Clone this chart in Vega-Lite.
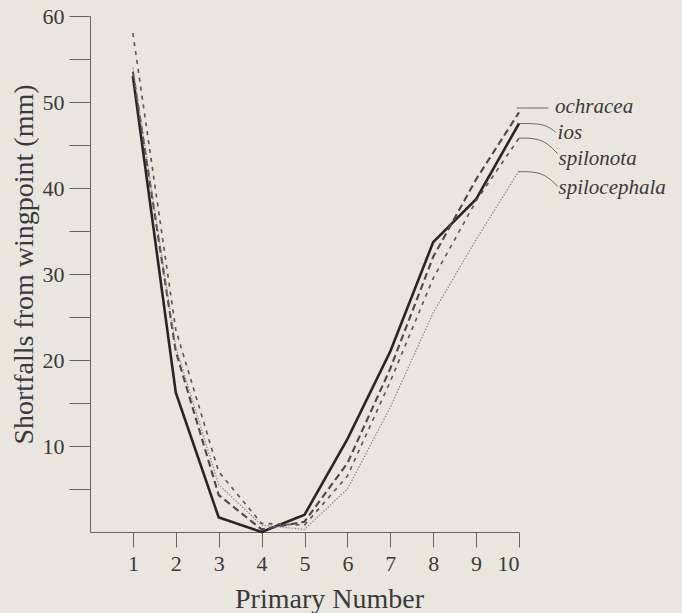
{
  "$schema": "https://vega.github.io/schema/vega-lite/v6.json",
  "width": 429,
  "height": 516,
  "autosize": "none",
  "padding": {"left": 90, "top": 16, "right": 163, "bottom": 81},
  "background": "#e9e6df",
  "config": {
    "view": {"stroke": null},
    "axis": {"domainColor": "#666", "tickColor": "#666", "labelColor": "#3a3a3a", "titleColor": "#3a3a3a", "labelFont": "Times New Roman, Liberation Serif, serif", "titleFont": "Times New Roman, Liberation Serif, serif", "titleFontWeight": "normal", "grid": false}
  },
  "datasets": {
    "curves": [
      {"series": "ios", "primary": 1, "shortfall": 53},
      {"series": "ios", "primary": 2, "shortfall": 16.2},
      {"series": "ios", "primary": 3, "shortfall": 1.7},
      {"series": "ios", "primary": 4, "shortfall": 0},
      {"series": "ios", "primary": 5, "shortfall": 2.0},
      {"series": "ios", "primary": 6, "shortfall": 10.8},
      {"series": "ios", "primary": 7, "shortfall": 21},
      {"series": "ios", "primary": 8, "shortfall": 33.7},
      {"series": "ios", "primary": 9, "shortfall": 38.7},
      {"series": "ios", "primary": 10, "shortfall": 47.5},
      {"series": "ochracea", "primary": 1, "shortfall": 53.5},
      {"series": "ochracea", "primary": 2, "shortfall": 21},
      {"series": "ochracea", "primary": 3, "shortfall": 4.3},
      {"series": "ochracea", "primary": 4, "shortfall": 0.3},
      {"series": "ochracea", "primary": 5, "shortfall": 1.2},
      {"series": "ochracea", "primary": 6, "shortfall": 8},
      {"series": "ochracea", "primary": 7, "shortfall": 19},
      {"series": "ochracea", "primary": 8, "shortfall": 32},
      {"series": "ochracea", "primary": 9, "shortfall": 41},
      {"series": "ochracea", "primary": 10, "shortfall": 48.8},
      {"series": "spilonota", "primary": 1, "shortfall": 58},
      {"series": "spilonota", "primary": 2, "shortfall": 23.5},
      {"series": "spilonota", "primary": 3, "shortfall": 7},
      {"series": "spilonota", "primary": 4, "shortfall": 1.0},
      {"series": "spilonota", "primary": 5, "shortfall": 0.8},
      {"series": "spilonota", "primary": 6, "shortfall": 6.5},
      {"series": "spilonota", "primary": 7, "shortfall": 17.5},
      {"series": "spilonota", "primary": 8, "shortfall": 29.5},
      {"series": "spilonota", "primary": 9, "shortfall": 38.5},
      {"series": "spilonota", "primary": 10, "shortfall": 45.8},
      {"series": "spilocephala", "primary": 1, "shortfall": 54},
      {"series": "spilocephala", "primary": 2, "shortfall": 21.5},
      {"series": "spilocephala", "primary": 3, "shortfall": 5.5},
      {"series": "spilocephala", "primary": 4, "shortfall": 0.8},
      {"series": "spilocephala", "primary": 5, "shortfall": 0.3},
      {"series": "spilocephala", "primary": 6, "shortfall": 5},
      {"series": "spilocephala", "primary": 7, "shortfall": 14.5},
      {"series": "spilocephala", "primary": 8, "shortfall": 25.5},
      {"series": "spilocephala", "primary": 9, "shortfall": 34},
      {"series": "spilocephala", "primary": 10, "shortfall": 42}
    ],
    "leaders": [
      {"series": "ochracea", "k": 0, "x": 9.95, "y": 49.3},
      {"series": "ochracea", "k": 1, "x": 10.3, "y": 49.3},
      {"series": "ochracea", "k": 2, "x": 10.68, "y": 49.3},
      {"series": "ios", "k": 0, "x": 10, "y": 47.5},
      {"series": "ios", "k": 1, "x": 10.6, "y": 47.5},
      {"series": "ios", "k": 2, "x": 10.85, "y": 46.5},
      {"series": "spilonota", "k": 0, "x": 10, "y": 45.8},
      {"series": "spilonota", "k": 1, "x": 10.55, "y": 45.8},
      {"series": "spilonota", "k": 2, "x": 10.9, "y": 44.0},
      {"series": "spilocephala", "k": 0, "x": 10, "y": 41.9},
      {"series": "spilocephala", "k": 1, "x": 10.55, "y": 41.9},
      {"series": "spilocephala", "k": 2, "x": 10.9, "y": 40.2}
    ],
    "labels": [
      {"series": "ochracea", "x": 10.84, "y": 49.4},
      {"series": "ios", "x": 10.9, "y": 46.4},
      {"series": "spilonota", "x": 10.92, "y": 43.4},
      {"series": "spilocephala", "x": 10.92, "y": 40.0}
    ]
  },
  "layer": [
    {
      "data": {"name": "curves"},
      "mark": {"type": "line"},
      "encoding": {
        "x": {"field": "primary", "type": "quantitative", "scale": {"domain": [0, 10], "nice": false, "zero": false},
          "axis": {"values": [1,2,3,4,5,6,7,8,9,10], "tickSize": 15, "labelPadding": 6, "labelFontSize": 22, "title": "Primary Number", "titleFontSize": 28, "titleX": 239, "titleY": 75, "titleBaseline": "alphabetic", "titleAlign": "center", "domainWidth": 1, "tickWidth": 1}},
        "y": {"field": "shortfall", "type": "quantitative", "scale": {"domain": [0, 60], "nice": false},
          "axis": {"values": [5,10,15,20,25,30,35,40,45,50,55,60], "labelExpr": "datum.value % 10 == 0 ? datum.label : ''", "tickSize": 21, "labelPadding": 5, "labelFontSize": 22, "title": "Shortfalls from wingpoint (mm)", "titleFontSize": 28, "titleX": -58, "titleY": 248, "titleBaseline": "alphabetic", "titleAlign": "center", "titleAngle": -90}},
        "color": {"field": "series", "type": "nominal", "legend": null,
          "scale": {"domain": ["ios", "ochracea", "spilonota", "spilocephala"], "range": ["#262626", "#4a4a4a", "#5a5a5a", "#8a8a8a"]}},
        "strokeDash": {"field": "series", "type": "nominal", "legend": null,
          "scale": {"domain": ["ios", "ochracea", "spilonota", "spilocephala"], "range": [[1, 0], [7, 4], [4, 5], [1.5, 1.5]]}},
        "strokeWidth": {"field": "series", "type": "nominal", "legend": null,
          "scale": {"domain": ["ios", "ochracea", "spilonota", "spilocephala"], "range": [2.6, 1.2, 1.2, 1.1]}}
      }
    },
    {
      "data": {"name": "leaders"},
      "mark": {"type": "line", "interpolate": "basis", "color": "#666", "strokeWidth": 1},
      "encoding": {
        "x": {"field": "x", "type": "quantitative"},
        "y": {"field": "y", "type": "quantitative"},
        "detail": {"field": "series"},
        "order": {"field": "k"}
      }
    },
    {
      "data": {"name": "labels"},
      "mark": {"type": "text", "align": "left", "baseline": "middle", "font": "Times New Roman, Liberation Serif, serif", "fontStyle": "italic", "fontSize": 21, "color": "#3a3a3a"},
      "encoding": {
        "x": {"field": "x", "type": "quantitative"},
        "y": {"field": "y", "type": "quantitative"},
        "text": {"field": "series"}
      }
    }
  ]
}
